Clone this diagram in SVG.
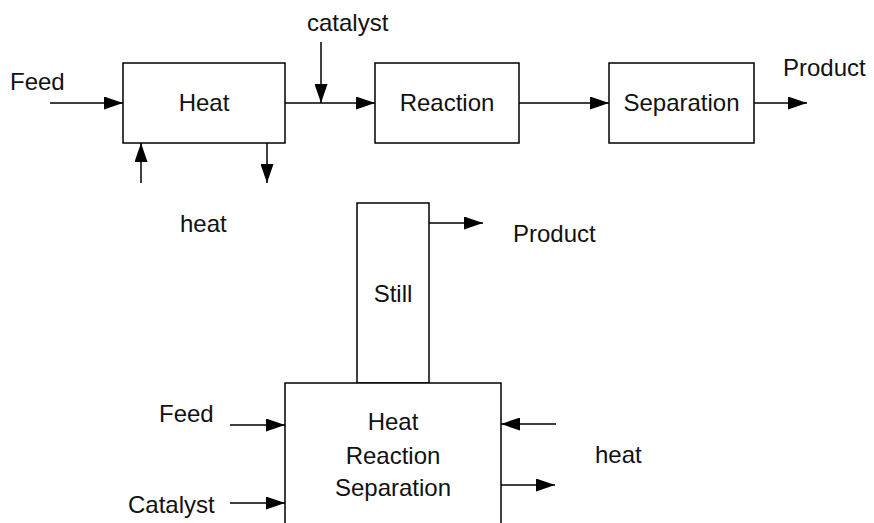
<svg xmlns="http://www.w3.org/2000/svg" width="874" height="523" viewBox="0 0 874 523">
<defs>
<marker id="ah" markerUnits="userSpaceOnUse" markerWidth="19" markerHeight="13" refX="19" refY="6.5" orient="auto">
<path d="M0,0 L19,6.5 L0,13 z" fill="#000"/>
</marker>
</defs>
<style>
text{font-family:"Liberation Sans",Arial,sans-serif;font-size:24px;fill:#111}
.c{text-anchor:middle}
.box{fill:#fff;stroke:#000;stroke-width:1.5}
.ln{fill:none;stroke:#000;stroke-width:1.5;marker-end:url(#ah)}
</style>
<rect width="874" height="523" fill="#fff"/>
<g id="connectors">
<line class="ln" x1="50" y1="103" x2="123" y2="103"/>
<line class="ln" x1="141" y1="183" x2="141" y2="143"/>
<line class="ln" x1="267" y1="143" x2="267" y2="183"/>
<line class="ln" x1="321" y1="42" x2="321" y2="103"/>
<line class="ln" x1="285" y1="103" x2="375" y2="103"/>
<line class="ln" x1="519" y1="103" x2="609" y2="103"/>
<line class="ln" x1="754" y1="103" x2="807" y2="103"/>
<line class="ln" x1="429" y1="223" x2="483" y2="223"/>
<line class="ln" x1="230" y1="425" x2="285" y2="425"/>
<line class="ln" x1="230" y1="503" x2="285" y2="503"/>
<line class="ln" x1="556" y1="424" x2="501" y2="424"/>
<line class="ln" x1="501" y1="485" x2="555" y2="485"/>
</g>
<g id="labels">
<text x="10" y="90">Feed</text>
<text x="307" y="31">catalyst</text>
<text x="783" y="76">Product</text>
<text x="180" y="232">heat</text>
<text x="513" y="242">Product</text>
<text x="159" y="422">Feed</text>
<text x="128" y="513">Catalyst</text>
<text x="595" y="463">heat</text>
</g>
<g id="heat">
<rect class="box" x="123" y="63" width="162" height="80"/>
<text class="c" x="204" y="111">Heat</text>
</g>
<g id="reaction">
<rect class="box" x="375" y="63" width="144" height="80"/>
<text class="c" x="447" y="111">Reaction</text>
</g>
<g id="separation">
<rect class="box" x="609" y="63" width="145" height="80"/>
<text class="c" x="681.5" y="111">Separation</text>
</g>
<g id="still">
<rect class="box" x="357" y="203" width="72" height="180"/>
<text class="c" x="393" y="302">Still</text>
</g>
<g id="combined">
<rect class="box" x="285" y="383" width="216" height="160"/>
<text class="c" x="393" y="430">Heat</text>
<text class="c" x="393" y="464">Reaction</text>
<text class="c" x="393" y="496">Separation</text>
</g>
</svg>
